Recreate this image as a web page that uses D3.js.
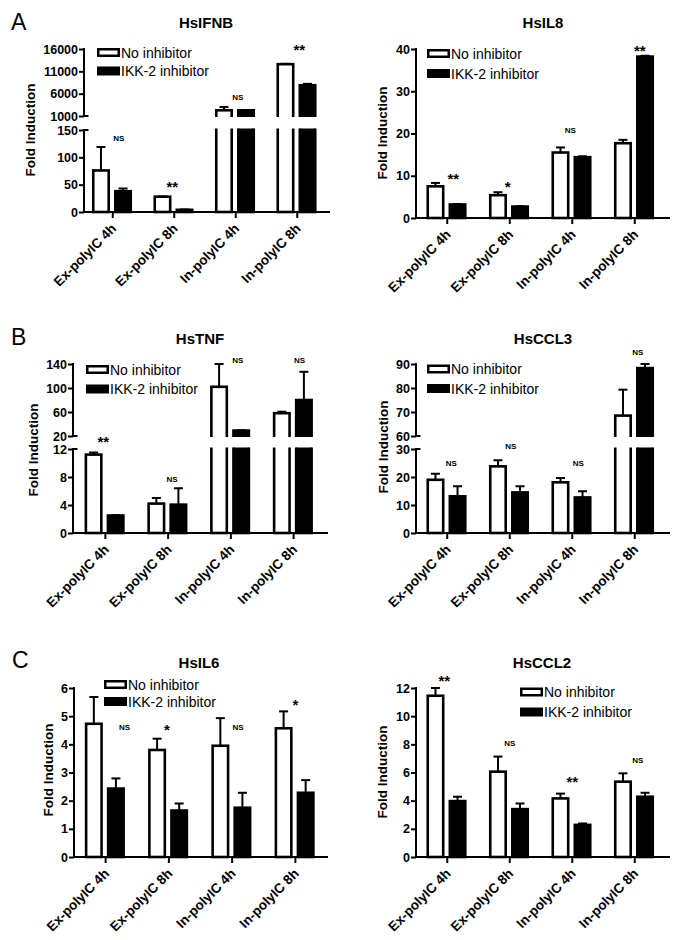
<!DOCTYPE html>
<html><head><meta charset="utf-8">
<script src="https://cdn.jsdelivr.net/npm/d3@7"></script>
<style>
body{margin:0;background:#fff}
svg{display:block}
text{font-family:"Liberation Sans",Arial,Helvetica,sans-serif;fill:#000}
</style>
</head><body>
<svg id="chart" width="685" height="940"></svg>
<script>
// ---------------- DATA ----------------
const categories = ["Ex-polyIC 4h", "Ex-polyIC 8h", "In-polyIC 4h", "In-polyIC 8h"];
const seriesNames = ["No inhibitor", "IKK-2 inhibitor"];
const geneTitles = ["HsIFNB", "HsIL8", "HsTNF", "HsCCL3", "HsIL6", "HsCCL2"];
const panelLetters = ["A", "B", "C"];
const yAxisTitle = "Fold Induction";

// HsIFNB
const ifnbNoMean  = [76, 28, 2280, 12600];
const ifnbNoSem   = [43, 0.5, 750, 80];
const ifnbIkkMean = [38, 4, 2280, 7900];
const ifnbIkkSem  = [5, 0.5, 0, 300];
const ifnbSig      = ["NS", "**", "NS", "**"];
const ifnbSigLevel = [135, 51, 5254, 16224];
const ifnbLowerTicks = [0, 50, 100, 150];
const ifnbUpperTicks = [1000, 6000, 11000, 16000];

// HsIL8
const il8NoMean  = [7.5, 5.4, 15.5, 17.7];
const il8NoSem   = [0.8, 0.7, 1.2, 0.8];
const il8IkkMean = [3.2, 2.7, 14.4, 38.2];
const il8IkkSem  = [0.1, 0.1, 0.2, 0.2];
const il8Sig      = ["**", "*", "NS", "**"];
const il8SigLevel = [9.9, 8.0, 20.8, 40.2];
const il8Ticks = [0, 10, 20, 30, 40];

// HsTNF
const tnfNoMean  = [11.2, 4.2, 102, 58];
const tnfNoSem   = [0.3, 0.8, 38, 2.5];
const tnfIkkMean = [2.5, 4.05, 29, 80];
const tnfIkkSem  = [0.05, 2.35, 0.5, 47];
const tnfSig      = ["**", "NS", "NS", "NS"];
const tnfSigLevel = [13.3, 7.7, 146.7, 146.7];
const tnfLowerTicks = [0, 4, 8, 12];
const tnfUpperTicks = [20, 60, 100, 140];

// HsCCL3
const ccl3NoMean  = [19, 23.8, 18.1, 68.5];
const ccl3NoSem   = [2.2, 2.2, 1.5, 10.8];
const ccl3IkkMean = [13.1, 14.5, 12.7, 88.3];
const ccl3IkkSem  = [3.6, 2.2, 2.2, 1.7];
const ccl3Sig      = ["NS", "NS", "NS", "NS"];
const ccl3SigLevel = [25, 31.1, 25, 95];
const ccl3LowerTicks = [0, 10, 20, 30];
const ccl3UpperTicks = [60, 70, 80, 90];

// HsIL6
const il6NoMean  = [4.73, 3.8, 3.95, 4.57];
const il6NoSem   = [0.95, 0.4, 0.98, 0.6];
const il6IkkMean = [2.43, 1.65, 1.75, 2.28];
const il6IkkSem  = [0.36, 0.25, 0.53, 0.45];
const il6Sig      = ["NS", "*", "NS", "*"];
const il6SigLevel = [4.61, 4.58, 4.61, 5.47];
const il6Ticks = [0, 1, 2, 3, 4, 5, 6];

// HsCCL2
const ccl2NoMean  = [11.45, 6.06, 4.16, 5.35];
const ccl2NoSem   = [0.55, 1.07, 0.34, 0.59];
const ccl2IkkMean = [3.97, 3.4, 2.28, 4.28];
const ccl2IkkSem  = [0.31, 0.4, 0.1, 0.28];
const ccl2Sig      = ["**", "NS", "**", "NS"];
const ccl2SigLevel = [12.7, 8.1, 5.47, 6.9];
const ccl2Ticks = [0, 2, 4, 6, 8, 10, 12];

// ---------------- LAYOUT ----------------
const panels = [
  { title: geneTitles[0], letter: panelLetters[0], letterPos: [11, 30],
    means: [ifnbNoMean, ifnbIkkMean], sems: [ifnbNoSem, ifnbIkkSem], sig: ifnbSig, sigLevel: ifnbSigLevel,
    segments: [ {domain: [0, 150], range: [212, 130], ticks: ifnbLowerTicks},
                {domain: [1000, 16000], range: [116, 49], ticks: ifnbUpperTicks} ],
    axisX: 84, endX: 330, band: [82, 328], y0: 212, titleX: 206, titleY: 23,
    legend: {x: 97, y1: 52.5, y2: 71}, ylab: {x: 30, y: 130}, sigDx: [6, -2, 2, 2] },
  { title: geneTitles[1],
    means: [il8NoMean, il8IkkMean], sems: [il8NoSem, il8IkkSem], sig: il8Sig, sigLevel: il8SigLevel,
    segments: [ {domain: [0, 40], range: [218, 49], ticks: il8Ticks} ],
    axisX: 416, endX: 670, band: [416, 666], y0: 218, titleX: 543, titleY: 23,
    legend: {x: 427, y1: 53.5, y2: 73.5}, ylab: {x: 382, y: 133}, sigDx: [6, -2, -2, 5] },
  { title: geneTitles[2], letter: panelLetters[1], letterPos: [11, 345],
    means: [tnfNoMean, tnfIkkMean], sems: [tnfNoSem, tnfIkkSem], sig: tnfSig, sigLevel: tnfSigLevel,
    segments: [ {domain: [0, 12], range: [533, 449], ticks: tnfLowerTicks},
                {domain: [20, 140], range: [436, 364], ticks: tnfUpperTicks} ],
    axisX: 73, endX: 328, band: [74, 325], y0: 533, titleX: 200, titleY: 339,
    legend: {x: 86, y1: 369.5, y2: 389}, ylab: {x: 33, y: 450}, sigDx: [-2, 4, 7, 6] },
  { title: geneTitles[3],
    means: [ccl3NoMean, ccl3IkkMean], sems: [ccl3NoSem, ccl3IkkSem], sig: ccl3Sig, sigLevel: ccl3SigLevel,
    segments: [ {domain: [0, 30], range: [533, 449], ticks: ccl3LowerTicks},
                {domain: [60, 90], range: [436, 364], ticks: ccl3UpperTicks} ],
    axisX: 416, endX: 670, band: [416, 666], y0: 533, titleX: 543, titleY: 339,
    legend: {x: 427, y1: 369, y2: 388.5}, ylab: {x: 383, y: 447}, sigDx: [4, 1, 6, 3] },
  { title: geneTitles[4], letter: panelLetters[2], letterPos: [12, 668],
    means: [il6NoMean, il6IkkMean], sems: [il6NoSem, il6IkkSem], sig: il6Sig, sigLevel: il6SigLevel,
    segments: [ {domain: [0, 6], range: [857, 688], ticks: il6Ticks} ],
    axisX: 74, endX: 328, band: [74, 327], y0: 857, titleX: 199, titleY: 663,
    legend: {x: 104, y1: 684.5, y2: 701.5}, ylab: {x: 48, y: 770}, sigDx: [19, -2, 6, 0] },
  { title: geneTitles[5],
    means: [ccl2NoMean, ccl2IkkMean], sems: [ccl2NoSem, ccl2IkkSem], sig: ccl2Sig, sigLevel: ccl2SigLevel,
    segments: [ {domain: [0, 12], range: [857, 688], ticks: ccl2Ticks} ],
    axisX: 416, endX: 670, band: [416, 666], y0: 857, titleX: 542, titleY: 663,
    legend: {x: 520, y1: 692, y2: 712}, ylab: {x: 382, y: 772}, sigDx: [-3, 0, 0, 3] }
];

const FONT = '"Liberation Sans", Arial, Helvetica, sans-serif';
const svg = d3.select("#chart");
svg.append("rect").attr("width", 685).attr("height", 940).attr("fill", "#fff");
const defs = svg.append("defs");

panels.forEach((p, pi) => {
  const g = svg.append("g");
  const segs = p.segments.map(s => ({...s, scale: d3.scaleLinear().domain(s.domain).range(s.range)}));
  const broken = segs.length > 1;
  const segFor = v => { let s = segs[0]; segs.forEach(t => { if (v >= t.domain[0]) s = t; }); return s; };

  const x0 = d3.scaleBand().domain(categories).range(p.band).padding(0);
  const x1 = d3.scaleBand().domain(seriesNames).range([-19.5, 18]).paddingInner(0.3).paddingOuter(0);

  // panel letter
  if (p.letter) g.append("text").attr("x", p.letterPos[0]).attr("y", p.letterPos[1])
    .style("font-size", "23px").text(p.letter);

  // title
  g.append("text").attr("x", p.titleX).attr("y", p.titleY).attr("dy", "0.36em")
    .attr("text-anchor", "middle").style("font-size", "15px").style("font-weight", "bold").text(p.title);

  // y axis label
  g.append("text").attr("transform", `translate(${p.ylab.x},${p.ylab.y}) rotate(-90)`)
    .attr("text-anchor", "middle").attr("dy", "0.36em")
    .style("font-size", "13.5px").style("font-weight", "bold").text(yAxisTitle);

  // bars per segment (clipped)
  segs.forEach((s, si) => {
    const isLower = si === 0;
    const isTop = si === segs.length - 1;
    const clipId = `clip-${pi}-${si}`;
    const cy0 = isTop ? 0 : s.range[1] - 1.5;
    const cy1 = isLower ? p.y0 + 2 : s.range[0] + 1;
    defs.append("clipPath").attr("id", clipId).append("rect")
      .attr("x", p.axisX - 2).attr("y", cy0).attr("width", p.endX - p.axisX + 4).attr("height", cy1 - cy0);
    const sg = g.append("g").attr("clip-path", `url(#${clipId})`);
    const baseY = isLower ? s.scale(s.domain[0]) : s.range[0] + 10;

    categories.forEach((c, ci) => {
      seriesNames.forEach((sn, k) => {
        const v = p.means[k][ci];
        const e = p.sems[k][ci];
        if (!isLower && v < s.domain[0]) return;
        const bx = x0(c) + x0.bandwidth() / 2 + x1(sn);
        const bw = x1.bandwidth();
        const topY = s.scale(v);
        sg.append("rect").attr("x", bx).attr("y", topY).attr("width", bw).attr("height", Math.max(0, baseY - topY))
          .attr("fill", k === 0 ? "#fff" : "#000").attr("stroke", "#000").attr("stroke-width", 2.6);
        if (segFor(v) === s && e > 0) {
          const cx = bx + bw / 2;
          const ey = s.scale(v + e);
          sg.append("line").attr("x1", cx).attr("x2", cx).attr("y1", topY).attr("y2", ey)
            .attr("stroke", "#000").attr("stroke-width", 2);
          sg.append("line").attr("x1", cx - 4.5).attr("x2", cx + 4.5).attr("y1", ey).attr("y2", ey)
            .attr("stroke", "#000").attr("stroke-width", 2);
        }
      });
    });

    // y axis segment
    const ax = d3.axisLeft(s.scale).tickValues(s.ticks).tickSize(5).tickSizeOuter(0).tickFormat(d3.format("d"));
    const ag = g.append("g").attr("transform", `translate(${p.axisX},0)`).call(ax);
    ag.select(".domain").attr("stroke-width", 2).attr("d", `M0,${isLower ? p.y0 + 1 : s.range[0]}V${s.range[1] - 1}`);
    ag.selectAll(".tick line").attr("stroke-width", 2);
    ag.selectAll(".tick text").attr("x", -6).style("font-size", "12.5px").style("font-weight", "bold")
      .style("font-family", FONT).attr("fill", "#000");
    if (broken) {
      const stubY = isLower ? s.range[1] : s.range[0];
      ag.append("line").attr("x1", 0).attr("x2", 4.5).attr("y1", stubY).attr("y2", stubY)
        .attr("stroke", "#000").attr("stroke-width", 2);
    }
  });

  // x axis
  g.append("line").attr("x1", p.axisX - 1).attr("x2", p.endX).attr("y1", p.y0).attr("y2", p.y0)
    .attr("stroke", "#000").attr("stroke-width", 2);
  const xg = g.append("g").attr("transform", `translate(0,${p.y0})`)
    .call(d3.axisBottom(x0).tickSize(6).tickSizeOuter(0));
  xg.select(".domain").remove();
  xg.selectAll(".tick line").attr("stroke-width", 2);
  xg.selectAll(".tick text")
    .attr("x", 0).attr("y", 0).attr("dy", "0.35em")
    .attr("transform", "translate(1,14) rotate(-45)")
    .attr("text-anchor", "end")
    .style("font-size", "13.5px").style("font-weight", "bold").style("font-family", FONT).attr("fill", "#000");

  // significance labels
  categories.forEach((c, ci) => {
    const lab = p.sig[ci];
    const lv = p.sigLevel[ci];
    const yy = segFor(lv).scale(lv);
    const cx = x0(c) + x0.bandwidth() / 2 + p.sigDx[ci];
    const isNS = lab === "NS";
    g.append("text").attr("x", cx).attr("y", yy + (isNS ? 3 : 7.5))
      .attr("text-anchor", "middle")
      .style("font-size", isNS ? "8px" : "15px").style("font-weight", "bold").text(lab);
  });

  // legend
  seriesNames.forEach((sn, k) => {
    const cy = k === 0 ? p.legend.y1 : p.legend.y2;
    g.append("rect").attr("x", p.legend.x + 1.25).attr("y", cy - 3.25).attr("width", 20.5).attr("height", 6.5)
      .attr("fill", k === 0 ? "#fff" : "#000").attr("stroke", "#000").attr("stroke-width", 2.5);
    g.append("text").attr("x", p.legend.x + 24).attr("y", cy).attr("dy", "0.36em")
      .style("font-size", "14px").text(sn);
  });
});
</script>
</body></html>
